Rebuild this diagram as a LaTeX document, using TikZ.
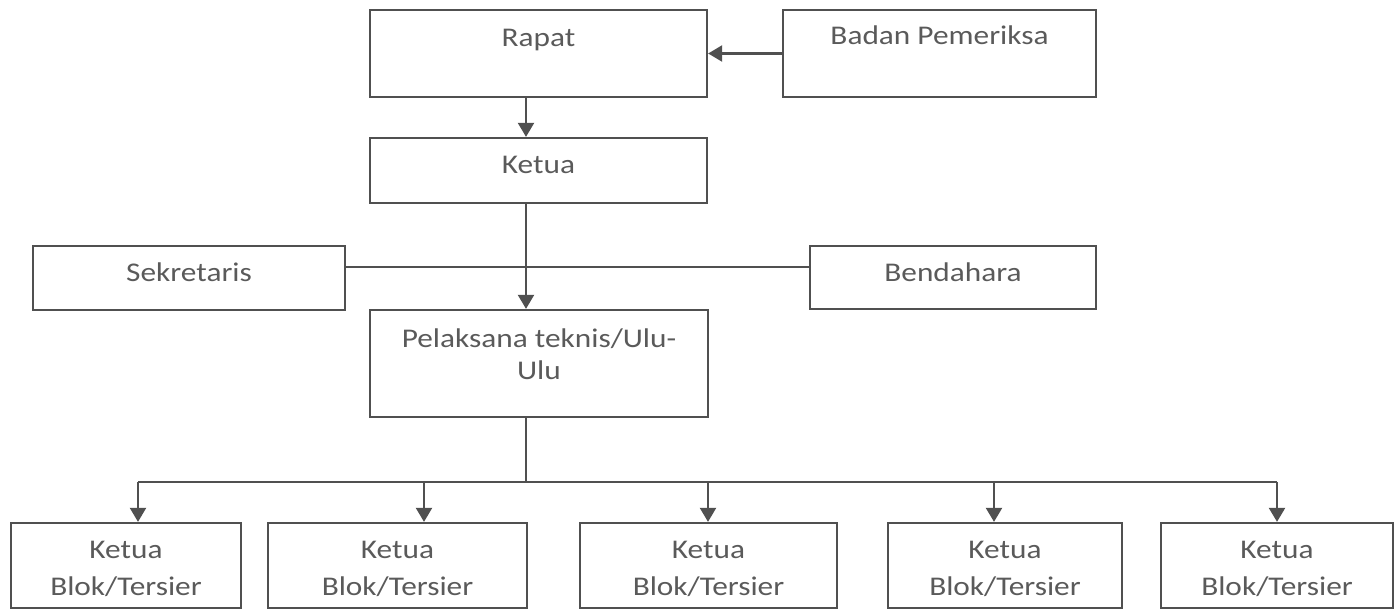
\documentclass[tikz,border=0pt]{standalone}
\usepackage{fontspec}
\setmainfont{Carlito}[FakeStretch=1.16]
\usetikzlibrary{arrows.meta}

\definecolor{linegray}{HTML}{505050}
\definecolor{textgray}{HTML}{5A5A5A}

\begin{document}
\begin{tikzpicture}[x=1pt, y=-1pt, >={Triangle[length=14pt,width=16pt]},
  every node/.style={font=\fontsize{27}{32}\selectfont, text=textgray},
  box/.style={draw=linegray, line width=2.3pt, inner sep=0pt},
  boxtext/.style={anchor=north, inner sep=0pt, align=center, yshift=#1},
  boxtext/.default=-19pt,
  arr/.style={->, draw=linegray, line width=2.3pt},
  link/.style={draw=linegray, line width=2.3pt}]

  \useasboundingbox (0,0) rectangle (1399,610);

  % top level
  \node[box, minimum width=337pt, minimum height=87pt,
        label={[boxtext=-20pt]north:Rapat}] (rapat) at (538.5,53.5) {};
  \node[box, minimum width=313pt, minimum height=87pt,
        label={[boxtext=-17pt]north:Badan Pemeriksa}] (badan) at (939.5,53.5) {};
  \node[box, minimum width=337pt, minimum height=65pt,
        label={[boxtext]north:Ketua}] (ketua) at (538.5,170.5) {};

  % staff
  \node[box, minimum width=312pt, minimum height=64pt,
        label={[boxtext=-18pt]north:Sekretaris}] (sekretaris) at (189,278) {};
  \node[box, minimum width=286pt, minimum height=63pt,
        label={[boxtext=-18pt]north:Bendahara}] (bendahara) at (953,277.5) {};
  \node[box, minimum width=338pt, minimum height=107pt,
        label={[boxtext=-20pt]north:Pelaksana teknis/Ulu-\\Ulu}] (pelaksana) at (539,363.5) {};

  % blocks
  \foreach \i/\cx/\w in {1/126/230, 2/397.5/259, 3/708.5/257, 4/1005/234, 5/1277/232}
    \node[box, minimum width=\w pt, minimum height=85pt,
          label={[boxtext=-19pt, font=\fontsize{27}{37}\selectfont]north:Ketua\\Blok/Tersier}]
          (blok\i) at (\cx,565.5) {};

  % spine and bus
  \coordinate (spine) at (526,0);
  \coordinate (staf) at (0,267);
  \coordinate (bus) at (526,482);

  \draw[arr] (badan) -- (rapat);
  \draw[arr] (rapat.south -| spine) -- (ketua.north -| spine);
  \draw[arr] (ketua.south -| spine) -- (pelaksana.north -| spine);
  \draw[link] (sekretaris.east |- staf) -- (bendahara.west |- staf);
  \draw[link] (pelaksana.south -| spine) -- (bus);

  \foreach \i/\ax in {1/138, 2/424, 3/708, 4/994, 5/1277}
    \coordinate (drop\i) at (\ax,482);
  \draw[link] (drop1) -- (drop5);
  \foreach \i in {1,...,5}
    \draw[arr] (drop\i) -- (drop\i |- blok\i.north);

\end{tikzpicture}
\end{document}
